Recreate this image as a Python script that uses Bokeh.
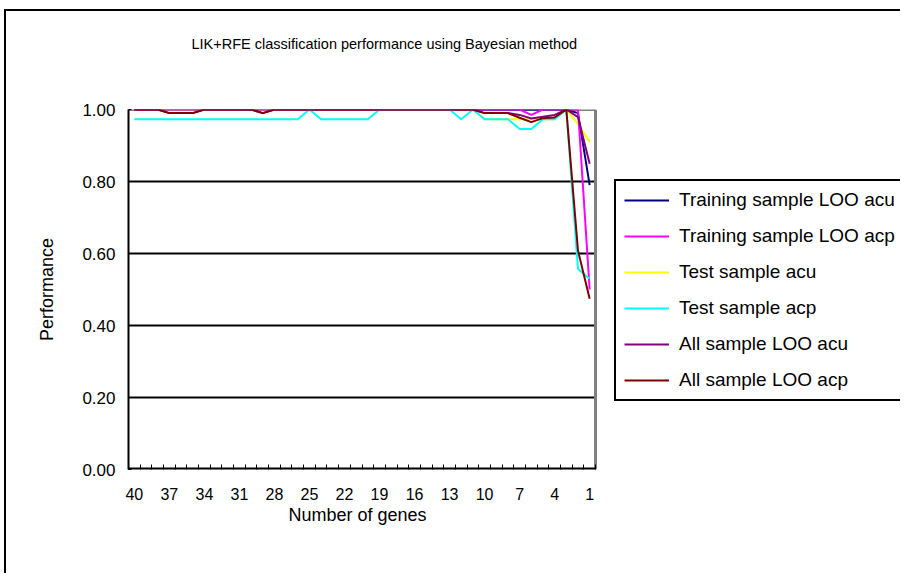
from bokeh.plotting import figure
from bokeh.models import (Range1d, FixedTicker, Legend, LegendItem, Title,
                          NumeralTickFormatter)
from bokeh.embed import file_html
from bokeh.resources import INLINE

# ---------------- data ----------------
genes = [40, 39, 38, 37, 36, 35, 34, 33, 32, 31,
         30, 29, 28, 27, 26, 25, 24, 23, 22, 21,
         20, 19, 18, 17, 16, 15, 14, 13, 12, 11,
         10, 9, 8, 7, 6, 5, 4, 3, 2, 1]

train_acu = [1.00, 1.00, 1.00, 1.00, 1.00, 1.00, 1.00, 1.00, 1.00, 1.00,
             1.00, 1.00, 1.00, 1.00, 1.00, 1.00, 1.00, 1.00, 1.00, 1.00,
             1.00, 1.00, 1.00, 1.00, 1.00, 1.00, 1.00, 1.00, 1.00, 1.00,
             1.00, 1.00, 1.00, 1.00, 1.00, 1.00, 1.00, 1.00, 0.99, 0.79]

train_acp = [1.00, 1.00, 1.00, 1.00, 1.00, 1.00, 1.00, 1.00, 1.00, 1.00,
             1.00, 1.00, 1.00, 1.00, 1.00, 1.00, 1.00, 1.00, 1.00, 1.00,
             1.00, 1.00, 1.00, 1.00, 1.00, 1.00, 1.00, 1.00, 1.00, 1.00,
             1.00, 1.00, 1.00, 1.00, 0.985, 1.00, 1.00, 1.00, 1.00, 0.50]

test_acu = [1.00, 1.00, 1.00, 1.00, 1.00, 1.00, 1.00, 1.00, 1.00, 1.00,
            1.00, 1.00, 1.00, 1.00, 1.00, 1.00, 1.00, 1.00, 1.00, 1.00,
            1.00, 1.00, 1.00, 1.00, 1.00, 1.00, 1.00, 1.00, 1.00, 1.00,
            0.973, 0.973, 0.973, 0.973, 0.973, 0.973, 0.973, 1.00, 0.96, 0.91]

test_acp = [0.973, 0.973, 0.973, 0.973, 0.973, 0.973, 0.973, 0.973, 0.973, 0.973,
            0.973, 0.973, 0.973, 0.973, 0.973, 1.00, 0.973, 0.973, 0.973, 0.973,
            0.973, 1.00, 1.00, 1.00, 1.00, 1.00, 1.00, 1.00, 0.973, 1.00,
            0.973, 0.973, 0.973, 0.946, 0.946, 0.973, 0.973, 1.00, 0.557, 0.53]

all_acu = [1.00, 1.00, 1.00, 0.99, 0.99, 0.99, 1.00, 1.00, 1.00, 1.00,
           1.00, 0.99, 1.00, 1.00, 1.00, 1.00, 1.00, 1.00, 1.00, 1.00,
           1.00, 1.00, 1.00, 1.00, 1.00, 1.00, 1.00, 1.00, 1.00, 1.00,
           0.99, 0.99, 0.99, 0.985, 0.975, 0.98, 0.985, 1.00, 0.979, 0.849]

all_acp = [1.00, 1.00, 1.00, 0.99, 0.99, 0.99, 1.00, 1.00, 1.00, 1.00,
           1.00, 0.99, 1.00, 1.00, 1.00, 1.00, 1.00, 1.00, 1.00, 1.00,
           1.00, 1.00, 1.00, 1.00, 1.00, 1.00, 1.00, 1.00, 1.00, 1.00,
           0.99, 0.99, 0.99, 0.977, 0.965, 0.976, 0.978, 1.00, 0.608, 0.474]

series_names = ["Training sample LOO acu", "Training sample LOO acp",
                "Test sample acu", "Test sample acp",
                "All sample LOO acu", "All sample LOO acp"]
series_values = [train_acu, train_acp, test_acu, test_acp, all_acu, all_acp]
series_colors = ["#000080", "#FF00FF", "#FFFF00", "#00FFFF", "#800080", "#800000"]
draw_order = [0, 2, 1, 3, 4, 5]

title_text = "LIK+RFE classification performance using Bayesian method"
x_title = "Number of genes"
y_title = "Performance"
y_ticks = [0.0, 0.2, 0.4, 0.6, 0.8, 1.0]
x_tick_labels = genes[::3]

FONT = "Liberation Sans"

# ---------------- layout (pixels) ----------------
W, H = 896, 564
FL, FT, FB = 122, 98, 106          # borders around the frame
AREA_W = 467                        # width of the visible plot area
frame_w = W - FL
x_lo = genes[0] + 0.5               # left edge of the category axis
x_hi = genes[-1] - 0.5              # right edge of the category axis
px_per_unit = AREA_W / (x_lo - x_hi)
x_end = x_lo - frame_w / px_per_unit

p = figure(width=W, height=H, output_backend="svg", toolbar_location=None,
           x_range=Range1d(x_lo, x_end), y_range=Range1d(0, 1),
           min_border_left=FL, min_border_right=0,
           min_border_top=FT, min_border_bottom=FB)
p.styles = {"border-left": "2px solid black", "border-top": "2px solid black",
            "border-right": "none", "border-bottom": "none",
            "outline": "none", "box-shadow": "none", "overflow": "hidden",
            "position": "relative", "left": "4px", "top": "9px"}
p.background_fill_color = "white"
p.border_fill_color = "white"
p.outline_line_color = None

# grid lines and plot-area border
p.xgrid.visible = False
p.ygrid.visible = False
grid_vals = y_ticks[1:-1]
p.segment(x0=[x_lo] * len(grid_vals), y0=grid_vals, x1=[x_hi] * len(grid_vals),
          y1=grid_vals, line_color="black", line_width=2)
p.segment(x0=[x_lo, x_hi], y0=[y_ticks[-1], y_ticks[0]], x1=[x_hi, x_hi],
          y1=[y_ticks[-1], y_ticks[-1]], line_color="#808080", line_width=3)
p.segment(x0=[x_lo], y0=[y_ticks[0]], x1=[x_hi], y1=[y_ticks[0]],
          line_color="black", line_width=4)

# y axis
ya = p.yaxis[0]
ya.ticker = FixedTicker(ticks=y_ticks)
ya.formatter = NumeralTickFormatter(format="0.00")
ya.axis_line_color = "black"
ya.axis_line_width = 2
ya.major_tick_in = 3
ya.major_tick_out = 0
ya.major_tick_line_color = "black"
ya.minor_tick_line_color = None
ya.major_label_standoff = 13
ya.major_label_text_font = FONT
ya.major_label_text_font_size = "17px"
ya.major_label_text_color = "black"
ya.axis_label = y_title
ya.axis_label_text_font = FONT
ya.axis_label_text_font_size = "18px"
ya.axis_label_text_font_style = "normal"
ya.axis_label_text_color = "black"
ya.axis_label_standoff = 22

# x axis (line drawn above as a segment so it stops at the plot area)
xa = p.xaxis[0]
minor_pos = [g + 0.5 for g in genes] + [x_hi]
xa.ticker = FixedTicker(ticks=x_tick_labels, minor_ticks=minor_pos)
xa.axis_line_color = None
xa.major_tick_in = 0
xa.major_tick_out = 0
xa.minor_tick_in = 5
xa.minor_tick_out = 0
xa.minor_tick_line_color = "black"
xa.minor_tick_line_width = 1
xa.major_label_standoff = 18
xa.major_label_text_font = FONT
xa.major_label_text_font_size = "16px"
xa.major_label_text_color = "black"

# lines
renderers = {}
for k in draw_order:
    r = p.line(genes, series_values[k], line_color=series_colors[k], line_width=2)
    renderers[k] = r

items = [LegendItem(label=series_names[k], renderers=[renderers[k]]) for k in range(6)]
legend = Legend(items=items, location=(486, 68), orientation="vertical")
legend.label_text_font = FONT
legend.label_text_font_size = "19px"
legend.label_text_color = "black"
legend.glyph_width = 45
legend.glyph_height = 20
legend.label_height = 20
legend.label_width = 260
legend.label_standoff = 10
legend.padding = 8
legend.spacing = 14
legend.margin = 0
legend.border_line_color = "black"
legend.border_line_width = 2
legend.border_line_alpha = 1.0
legend.background_fill_color = "white"
legend.background_fill_alpha = 1.0
p.add_layout(legend, "center")

# spacer between frame and chart title, then the chart title above it
spacer = Title(text=" ", text_font_size="2px", standoff=54)
p.add_layout(spacer, "above")
t_top = Title(text=title_text, align="left", offset=63, standoff=0,
              text_font=FONT, text_font_size="14.5px", text_font_style="normal",
              text_color="black")
p.add_layout(t_top, "above")
t_bot = Title(text=x_title, align="left", offset=160, standoff=0,
              text_font=FONT, text_font_size="18px", text_font_style="normal",
              text_color="black")
p.add_layout(t_bot, "below")

open("out.html", "w").write(file_html(p, INLINE))
